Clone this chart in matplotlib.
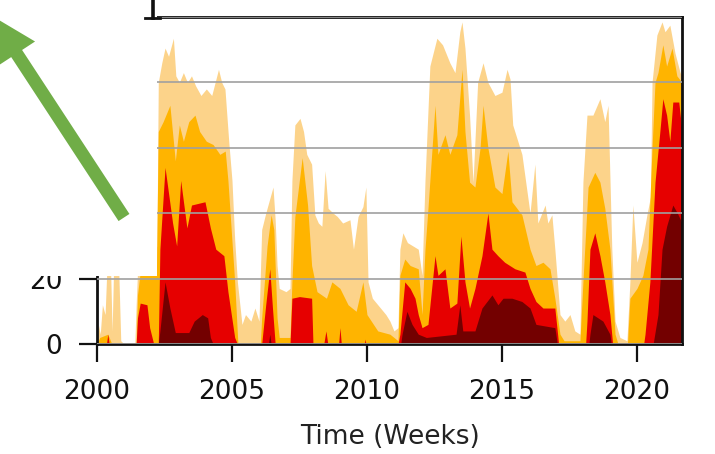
"""Drought category area chart (percent area, 2000-2021) with the cropped overlay."""

from __future__ import annotations

from pathlib import Path

import matplotlib

matplotlib.use("Agg")
import matplotlib.pyplot as plt
from matplotlib.lines import Line2D
from matplotlib.patches import FancyArrow, Rectangle


OUTPUT_PATH = Path("out.png")

# D1 and worse (light orange), percent of area
D1_YEARS = [
    2000.00, 2000.05, 2000.12, 2000.20, 2000.30, 2000.38, 2000.50, 2000.56, 2000.62, 2000.80,
    2000.88, 2001.00, 2001.40, 2001.45, 2001.52, 2001.80, 2002.10, 2002.22, 2002.27, 2002.40,
    2002.52, 2002.65, 2002.83, 2002.92, 2003.05, 2003.20, 2003.35, 2003.50, 2003.65, 2003.85,
    2004.05, 2004.25, 2004.50, 2004.62, 2004.74, 2004.88, 2005.00, 2005.10, 2005.20, 2005.37,
    2005.50, 2005.70, 2005.85, 2006.00, 2006.10, 2006.25, 2006.52, 2006.60, 2006.67, 2006.75,
    2007.00, 2007.15, 2007.22, 2007.33, 2007.52, 2007.65, 2007.77, 2007.95, 2008.07, 2008.20,
    2008.33, 2008.45, 2008.56, 2008.75, 2008.90, 2009.10, 2009.37, 2009.50, 2009.67, 2009.85,
    2009.96, 2010.04, 2010.20, 2010.50, 2010.70, 2010.85, 2011.00, 2011.15, 2011.22, 2011.33,
    2011.50, 2011.70, 2011.90, 2012.04, 2012.15, 2012.33, 2012.59, 2012.80, 2013.07, 2013.26,
    2013.44, 2013.52, 2013.63, 2013.80, 2013.93, 2014.10, 2014.30, 2014.48, 2014.74, 2015.00,
    2015.19, 2015.30, 2015.40, 2015.74, 2016.04, 2016.22, 2016.33, 2016.60, 2016.70, 2016.85,
    2016.96, 2017.15, 2017.33, 2017.52, 2017.70, 2017.89, 2018.00, 2018.15, 2018.37, 2018.63,
    2018.81, 2018.93, 2019.07, 2019.19, 2019.37, 2019.63, 2019.74, 2019.85, 2020.00, 2020.19,
    2020.37, 2020.50, 2020.56, 2020.74, 2020.93, 2021.04, 2021.22, 2021.41, 2021.60, 2021.67,
]
D1_PERCENT = [
    0, 6, 3, 12, 9, 26, 24, 4, 25, 24,
    1, 0, 0, 12, 26, 28, 27, 30, 80, 86,
    90.5, 88, 93.5, 82, 80, 83, 80, 82, 79, 76,
    78, 76, 84, 80, 78, 62, 50, 32, 19, 6,
    9, 7, 11, 7, 35, 40, 48, 38, 24, 17,
    16, 17, 50, 67, 69, 65, 58, 55, 39.5, 37,
    36, 53, 41.5, 40, 39, 37, 38, 29, 39, 42,
    48, 19, 14, 11, 9, 7, 4, 5, 29, 34,
    31, 30, 29, 21, 50, 85, 93.5, 91.5, 86, 83,
    95.5, 98.5, 90.5, 70, 49.5, 80, 86, 80, 76, 77,
    84, 81, 67, 58, 40, 55, 37, 42.5, 37, 39.5,
    29, 9, 7, 9, 4, 3, 49.5, 70, 70, 75,
    68, 73, 29, 7, 2, 1, 19, 42.5, 25, 31,
    39.5, 45, 80, 94.5, 98.5, 95.5, 97.5, 89, 83, 82,
]

# D2 and worse (orange)
D2_YEARS = [
    2000.00, 2000.10, 2000.40, 2000.55, 2001.45, 2001.50, 2001.60, 2001.90, 2002.20, 2002.27,
    2002.45, 2002.70, 2002.90, 2003.05, 2003.20, 2003.40, 2003.63, 2003.80, 2004.05, 2004.30,
    2004.55, 2004.75, 2004.85, 2005.10, 2005.22, 2006.05, 2006.10, 2006.30, 2006.45, 2006.55,
    2006.67, 2006.75, 2007.15, 2007.22, 2007.33, 2007.60, 2007.80, 2007.95, 2008.15, 2008.50,
    2008.70, 2009.00, 2009.30, 2009.60, 2009.85, 2010.00, 2010.40, 2010.85, 2011.15, 2011.22,
    2011.40, 2011.60, 2011.90, 2012.04, 2012.15, 2012.26, 2012.52, 2012.63, 2012.89, 2013.07,
    2013.33, 2013.52, 2013.63, 2013.80, 2014.00, 2014.19, 2014.30, 2014.48, 2014.74, 2015.00,
    2015.22, 2015.37, 2015.74, 2016.04, 2016.26, 2016.52, 2016.78, 2016.96, 2017.15, 2017.30,
    2017.89, 2018.00, 2018.19, 2018.44, 2018.63, 2018.81, 2019.00, 2019.19, 2019.30, 2019.65,
    2019.74, 2020.00, 2020.22, 2020.41, 2020.56, 2020.67, 2020.78, 2020.96, 2021.10, 2021.30,
    2021.48, 2021.67,
]
D2_PERCENT = [
    0, 2, 3, 0, 0, 15, 22, 22, 21, 65,
    68, 73, 56, 67, 62, 68, 70, 65, 62, 61,
    58, 59, 50, 19, 0, 0, 8, 30, 39.5, 35,
    8, 2, 2, 19, 39, 57, 42.5, 24, 16, 14,
    19, 17, 12, 10, 19, 9, 4, 3, 1, 21,
    26, 24, 23, 9, 29, 41.5, 73, 58, 64, 58,
    64, 84, 65, 49.5, 48, 60, 73, 60, 48, 46,
    59, 43.5, 39.5, 29, 24, 25, 23, 14, 3, 1,
    1, 19, 48, 52.5, 49.5, 41.5, 29, 3, 0, 0,
    14, 17, 21, 29, 60, 80, 83, 91.5, 85, 90.5,
    82, 80,
]

# D3 and worse (red)
D3_YEARS = [
    2000.00, 2000.35, 2000.40, 2000.45, 2001.45, 2001.50, 2001.60, 2001.85, 2001.95, 2002.10,
    2002.27, 2002.33, 2002.52, 2002.80, 2002.95, 2003.10, 2003.33, 2003.50, 2004.00, 2004.20,
    2004.40, 2004.70, 2004.85, 2005.10, 2005.20, 2006.10, 2006.25, 2006.40, 2006.50, 2006.60,
    2007.15, 2007.22, 2007.50, 2007.95, 2008.00, 2008.40, 2008.48, 2008.55, 2008.95, 2009.00,
    2009.05, 2009.90, 2009.93, 2009.96, 2011.15, 2011.22, 2011.40, 2011.60, 2011.78, 2011.90,
    2012.04, 2012.26, 2012.52, 2012.63, 2012.89, 2013.07, 2013.33, 2013.48, 2013.63, 2013.80,
    2014.00, 2014.26, 2014.48, 2014.63, 2014.85, 2015.10, 2015.48, 2015.85, 2016.04, 2016.26,
    2016.52, 2016.96, 2017.10, 2018.10, 2018.15, 2018.26, 2018.44, 2018.63, 2018.81, 2019.00,
    2019.10, 2020.25, 2020.30, 2020.48, 2020.67, 2020.85, 2020.96, 2021.10, 2021.22, 2021.33,
    2021.55, 2021.67,
]
D3_PERCENT = [
    0, 0, 3, 0, 0, 8, 12.5, 12, 5, 0,
    0, 29, 54, 37, 30, 50, 35.5, 42.5, 43.5, 35.5,
    29, 27, 16, 2, 0, 0, 12, 23, 11, 0,
    0, 14, 14.5, 14, 0, 0, 4, 0, 0, 5,
    0, 0, 1.5, 0, 0, 3, 19, 17, 14, 9,
    5, 6, 27, 21, 23, 11, 12.5, 33, 19, 11,
    17, 27, 40, 29, 27, 25, 23, 22, 17, 13,
    11, 11, 0, 0, 7, 29, 34, 27, 19, 9,
    0, 0, 3, 19, 49.5, 65, 75, 70, 62, 74,
    74, 65,
]

# D4 (dark red)
D4_YEARS = [
    2000.00, 2002.27, 2002.33, 2002.52, 2002.70, 2002.90, 2003.40, 2003.60, 2003.90, 2004.10,
    2004.20, 2004.30, 2006.35, 2006.40, 2006.45, 2011.25, 2011.30, 2011.48, 2011.67, 2011.90,
    2012.20, 2013.30, 2013.44, 2013.55, 2014.00, 2014.26, 2014.63, 2014.85, 2015.04, 2015.37,
    2015.74, 2016.04, 2016.26, 2016.96, 2017.05, 2018.22, 2018.26, 2018.37, 2018.74, 2019.00,
    2019.05, 2020.60, 2020.78, 2020.93, 2021.10, 2021.33, 2021.50, 2021.67,
]
D4_PERCENT = [
    0, 0, 4, 19, 11, 3.5, 3.5, 7, 9, 8,
    2, 0, 0, 3, 0, 0, 3, 10, 6, 3,
    2, 3, 12, 4, 4, 11, 15, 12, 14, 14,
    13, 11, 6, 5, 0, 0, 3, 9, 7, 3,
    0, 0, 9, 29, 36, 42.5, 40, 37,
]

X_TICKS = [2000, 2005, 2010, 2015, 2020]
Y_TICKS = [0, 20, 40, 60, 80, 100]

LAYER_COLORS = ["#fcd38a", "#ffb400", "#e60000", "#730000"]

FIG_W, FIG_H = 715, 454
FONT_SIZE = 19


def draw_layers(ax: plt.Axes) -> None:
    """Draw the cumulative drought layers from lightest to darkest."""
    layers = [
        (D1_YEARS, D1_PERCENT),
        (D2_YEARS, D2_PERCENT),
        (D3_YEARS, D3_PERCENT),
        (D4_YEARS, D4_PERCENT),
    ]
    for (years, percent), color in zip(layers, LAYER_COLORS, strict=True):
        ax.fill_between(years, 0, percent, color=color, linewidth=0, zorder=1)


def configure_axes(ax: plt.Axes) -> None:
    """Ticks, spines and gridlines."""
    ax.set_xlim(2000, 2021.67)
    ax.set_ylim(0, 100)
    ax.set_xticks(X_TICKS)
    ax.set_yticks(Y_TICKS)
    ax.tick_params(axis="both", direction="out", length=13, width=1.6,
                   labelsize=FONT_SIZE, pad=12, colors="#111111")
    ax.set_xlabel("Time (Weeks)", fontsize=FONT_SIZE, labelpad=14, color="#222222")
    ax.yaxis.grid(True, color="#a0a0a0", linewidth=1.2)
    ax.set_axisbelow(False)
    for spine in ax.spines.values():
        spine.set_linewidth(2.0)
        spine.set_color("#111111")


def draw_overlay(fig: plt.Figure) -> None:
    """White patch, green arrow and the stray frame piece, in pixel units."""
    ov = fig.add_axes([0, 0, 1, 1], zorder=10)
    ov.set_xlim(0, FIG_W)
    ov.set_ylim(FIG_H, 0)
    ov.axis("off")
    ov.patch.set_alpha(0)

    ov.add_patch(Rectangle((0, 0), 157, 276, facecolor="white", edgecolor="none"))
    ov.add_patch(FancyArrow(124, 217.5, -132, -201.6, width=13, head_width=44,
                            head_length=45, length_includes_head=True,
                            facecolor="#70ad47", edgecolor="none"))
    ov.add_line(Line2D([145, 160], [17.5, 17.5], color="#111111", linewidth=2.0))
    ov.add_line(Line2D([153, 153], [0, 18], color="#111111", linewidth=2.6))


def main() -> None:
    fig = plt.figure(figsize=(FIG_W / 100, FIG_H / 100), dpi=100)
    ax = fig.add_axes([97 / FIG_W, 1 - 344 / FIG_H, 585 / FIG_W, 327 / FIG_H])
    draw_layers(ax)
    configure_axes(ax)
    draw_overlay(fig)
    fig.savefig(OUTPUT_PATH, dpi=100)
    plt.close(fig)
    print(f"saved: {OUTPUT_PATH}")


if __name__ == "__main__":
    main()
